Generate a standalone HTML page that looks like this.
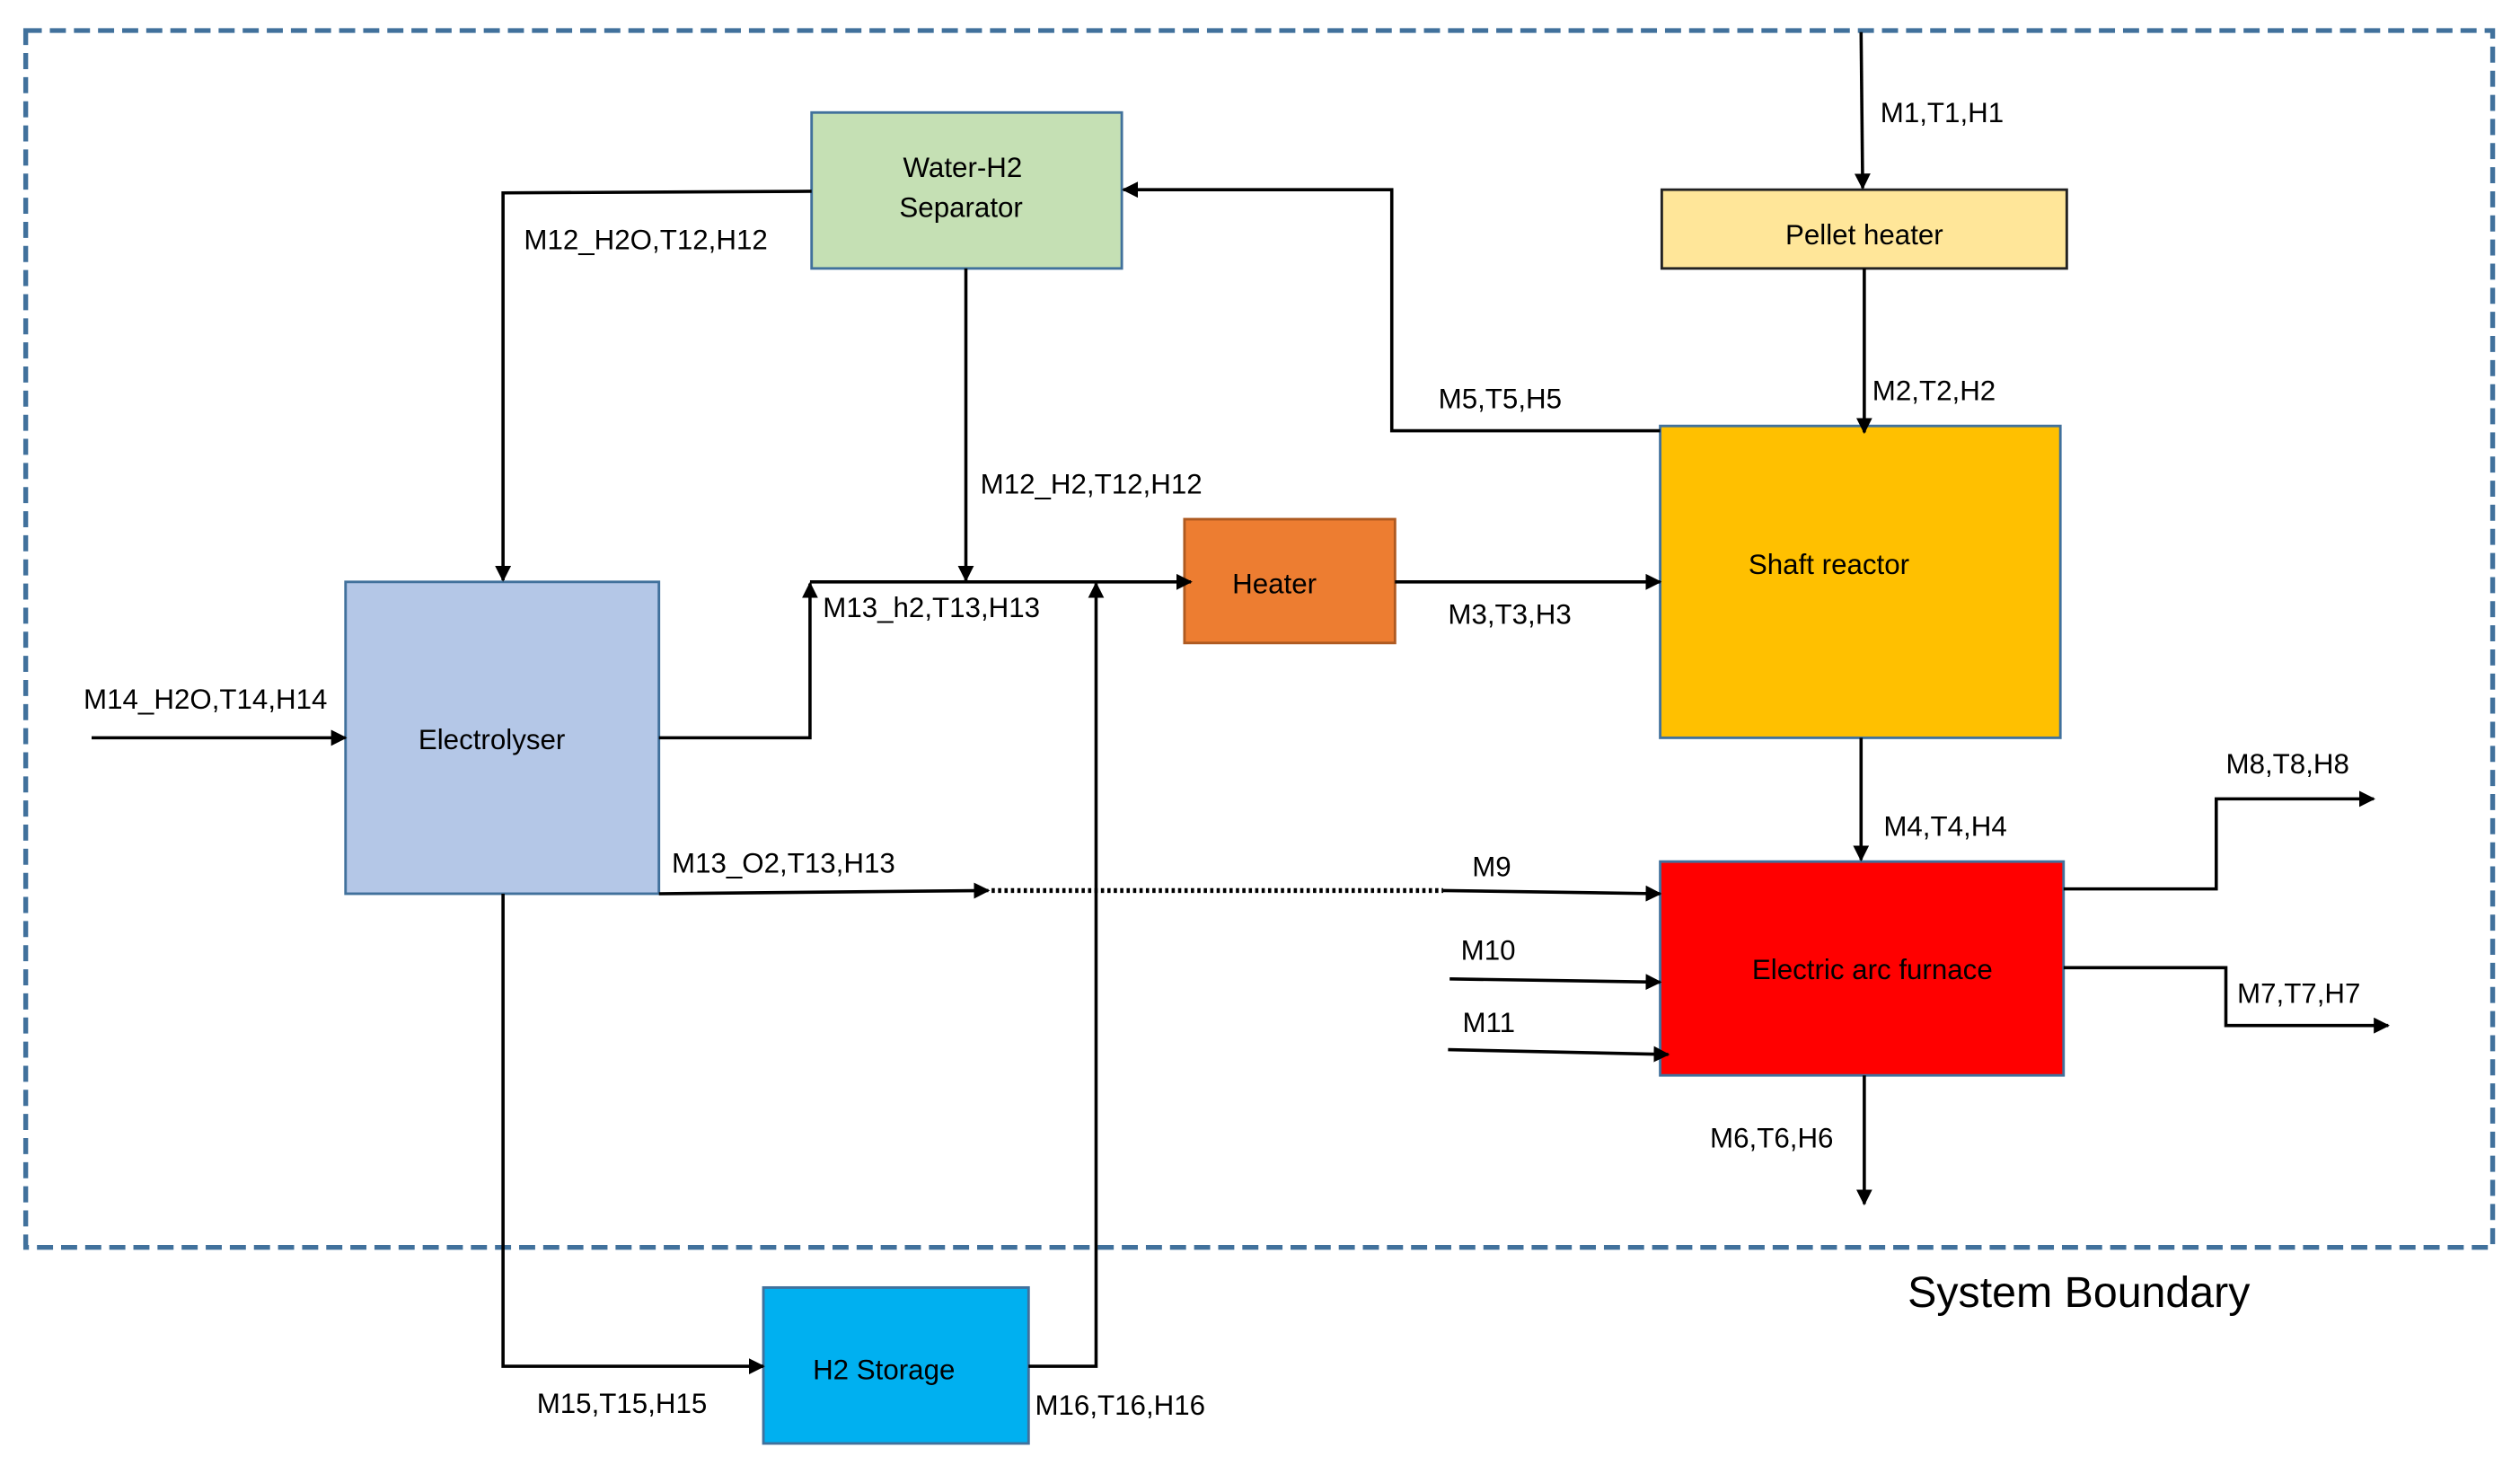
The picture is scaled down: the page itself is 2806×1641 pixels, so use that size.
<!DOCTYPE html>
<html><head><style>
html,body{margin:0;padding:0;background:#fff;}
svg{display:block;}
text{font-family:"Liberation Sans",sans-serif;font-size:17.5px;fill:#000;}
</style></head><body>
<svg width="2806" height="1641" viewBox="0 0 1568 917" xmlns="http://www.w3.org/2000/svg">
<defs>
<marker id="a" markerWidth="10" markerHeight="10" refX="9" refY="5" orient="auto" markerUnits="userSpaceOnUse">
<path d="M0,0 L10,5 L0,10 z" fill="#000"/></marker>
</defs>
<rect x="16" y="19" width="1535" height="757" fill="none" stroke="#41719c" stroke-width="3" stroke-dasharray="10,5"/>
<g stroke="#41719c" stroke-width="1.6">
<rect x="505" y="70" width="193" height="97" fill="#c5e0b4"/>
<rect x="1034" y="118" width="252" height="49" fill="#ffe699" stroke="#222"/>
<rect x="1033" y="265" width="249" height="194" fill="#ffc000"/>
<rect x="737" y="323" width="131" height="77" fill="#ed7d31" stroke="#ae5a21"/>
<rect x="215" y="362" width="195" height="194" fill="#b4c7e7"/>
<rect x="1033" y="536" width="251" height="133" fill="#ff0000"/>
<rect x="475" y="801" width="165" height="97" fill="#00b0f0"/>
</g>
<g fill="none" stroke="#000" stroke-width="2">
<path d="M1158,20 L1159,117" marker-end="url(#a)"/>
<path d="M1160,167 L1160,269" marker-end="url(#a)"/>
<path d="M1033,268 L866,268 L866,118 L699,118" marker-end="url(#a)"/>
<path d="M601,167 L601,361" marker-end="url(#a)"/>
<path d="M505,119 L313,120 L313,361" marker-end="url(#a)"/>
<path d="M410,459 L504,459 L504,363" marker-end="url(#a)"/>
<path d="M504,362 L741,362" marker-end="url(#a)"/>
<path d="M640,850 L682,850 L682,363" marker-end="url(#a)"/>
<path d="M868,362 L1033,362" marker-end="url(#a)"/>
<path d="M57,459 L215,459" marker-end="url(#a)"/>
<path d="M1158,459 L1158,535" marker-end="url(#a)"/>
<path d="M410,556 L615,554" marker-end="url(#a)"/>
<path d="M617,554 L898,554" stroke-dasharray="2,2" stroke-width="3"/>
<path d="M898,554 L1033,556" marker-end="url(#a)"/>
<path d="M902,609 L1033,611" marker-end="url(#a)"/>
<path d="M901,653 L1038,656" marker-end="url(#a)"/>
<path d="M1284,553 L1379,553 L1379,497 L1477,497" marker-end="url(#a)"/>
<path d="M1284,602 L1385,602 L1385,638 L1486,638" marker-end="url(#a)"/>
<path d="M1160,669 L1160,749" marker-end="url(#a)"/>
<path d="M313,556 L313,850 L475,850" marker-end="url(#a)"/>
</g>
<text x="599" y="110" text-anchor="middle">Water-H2</text>
<text x="598" y="135" text-anchor="middle">Separator</text>
<text x="1160" y="152" text-anchor="middle">Pellet  heater</text>
<text x="1138" y="357" text-anchor="middle">Shaft reactor</text>
<text x="793" y="369" text-anchor="middle">Heater</text>
<text x="306" y="466" text-anchor="middle">Electrolyser</text>
<text x="1165" y="609" text-anchor="middle">Electric arc furnace</text>
<text x="550" y="858" text-anchor="middle">H2 Storage</text>
<text x="1170" y="76">M1,T1,H1</text>
<text x="1165" y="249">M2,T2,H2</text>
<text x="895" y="254">M5,T5,H5</text>
<text x="326" y="155">M12_H2O,T12,H12</text>
<text x="610" y="307">M12_H2,T12,H12</text>
<text x="512" y="384">M13_h2,T13,H13</text>
<text x="901" y="388">M3,T3,H3</text>
<text x="52" y="441">M14_H2O,T14,H14</text>
<text x="1172" y="520">M4,T4,H4</text>
<text x="418" y="543">M13_O2,T13,H13</text>
<text x="916" y="545">M9</text>
<text x="909" y="597">M10</text>
<text x="910" y="642">M11</text>
<text x="1385" y="481">M8,T8,H8</text>
<text x="1392" y="624">M7,T7,H7</text>
<text x="1064" y="714">M6,T6,H6</text>
<text x="334" y="879">M15,T15,H15</text>
<text x="644" y="880">M16,T16,H16</text>
<text x="1187" y="813" style="font-size:27px">System Boundary</text>
</svg>
</body></html>
